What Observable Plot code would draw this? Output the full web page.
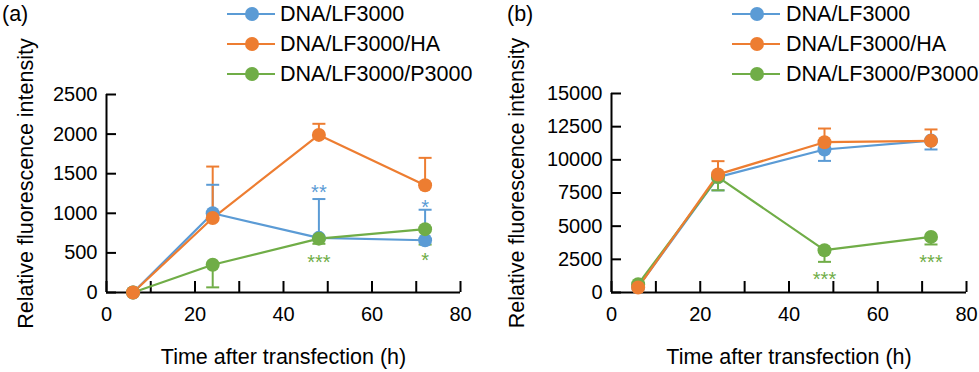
<!DOCTYPE html>
<html><head><meta charset="utf-8">
<script src="https://cdn.jsdelivr.net/npm/d3@7"></script>
<script src="https://cdn.jsdelivr.net/npm/@observablehq/plot@0.6"></script>
<style>
html,body{margin:0;padding:0;background:#fff;}
#root{position:relative;width:979px;height:372px;font-family:"Liberation Sans",Arial,sans-serif;overflow:hidden;background:#fff;color:#000;}
.panel{position:absolute;top:0;}
.row{position:absolute;display:flex;align-items:center;height:24px;font-size:21.5px;white-space:nowrap;}
.tag{position:absolute;font-size:21.5px;line-height:24px;}
</style></head><body><div id="root"></div>
<script>
// ---------- data ----------
const seriesNames = ["DNA/LF3000", "DNA/LF3000/HA", "DNA/LF3000/P3000"];
const seriesColors = ["#5B9BD5", "#ED7D31", "#70AD47"];
const times = [6, 24, 48, 72];
const xTicksMajor = [0, 20, 40, 60, 80];
const xTicksMinor = [0, 10, 20, 30, 40, 50, 60, 70, 80];
const yTicksA = [0, 500, 1000, 1500, 2000, 2500];
const yTicksB = [0, 2500, 5000, 7500, 10000, 12500, 15000];
const xLabel = "Time after transfection (h)";
const yLabel = "Relative fluorescence intensity";

// panel (a)
const aLF3000 = [0, 1000, 690, 660];
const aLF3000Err = [0, 360, 490, 385];     // drawn upward
const aHA = [0, 940, 1990, 1355];
const aHAErr = [0, 650, 140, 345];         // drawn upward
const aP3000 = [0, 350, 680, 800];
const aP3000Err = [0, 285, 65, 195];       // drawn downward
const aErrDir = [1, 1, -1];
const aStarSeries = ["DNA/LF3000", "DNA/LF3000/P3000", "DNA/LF3000", "DNA/LF3000/P3000"];
const aStarTime = [48, 48, 72, 72];
const aStarLevel = [1330, 446, 1136, 471];
const aStarText = ["**", "***", "*", "*"];

// panel (b)
const bLF3000 = [420, 8700, 10780, 11450];
const bLF3000Err = [0, 1000, 860, 670];    // drawn downward
const bHA = [380, 8900, 11330, 11430];
const bHAErr = [0, 1000, 1030, 860];       // drawn upward
const bP3000 = [620, 8700, 3190, 4190];
const bP3000Err = [0, 1000, 880, 570];     // drawn downward
const bErrDir = [-1, 1, -1];
const bStarSeries = ["DNA/LF3000/P3000", "DNA/LF3000/P3000"];
const bStarTime = [48, 72];
const bStarLevel = [1380, 2610];
const bStarText = ["***", "***"];

// ---------- helpers ----------
const FONT = '"Liberation Sans", Arial, sans-serif';
const capSymbol = {
  draw(ctx, size) {
    const w = Math.sqrt(size / Math.PI);
    ctx.moveTo(-w, 0); ctx.lineTo(w, 0);
  }
};

function buildRows(values, errs, dirs) {
  const order = [0, 2, 1]; // draw order: blue, green, orange on top
  const rows = [];
  for (const i of order) {
    times.forEach((t, j) => {
      rows.push({series: seriesNames[i], time: t, value: values[i][j], err: errs[i][j],
                 end: values[i][j] + dirs[i] * errs[i][j]});
    });
  }
  return rows;
}

function makePanel({rows, stars, yMax, yTicks, width, marginLeft, marginRight, marginTop, marginBottom, yLabelDx}) {
  const withErr = rows.filter(d => d.err > 0);
  return Plot.plot({
    width, height: 372, marginLeft, marginRight, marginTop, marginBottom,
    style: {fontFamily: FONT, fontSize: "20px", background: "transparent", color: "#000", overflow: "visible"},
    x: {domain: [0, 80]},
    y: {domain: [0, yMax]},
    color: {domain: seriesNames, range: seriesColors},
    marks: [
      Plot.axisX({ticks: xTicksMinor, tickSize: -11, strokeWidth: 2, tickFormat: () => "", label: null}),
      Plot.axisX({ticks: xTicksMajor, tickSize: 0, tickPadding: 14, fontSize: 20, tickFormat: d => String(d), label: null}),
      Plot.axisY({ticks: yTicks, tickSize: -10, tickPadding: 19, strokeWidth: 2, fontSize: 20, tickFormat: d => String(d), label: null}),
      Plot.text([xLabel], {frameAnchor: "bottom", dy: 65, textAnchor: "middle", lineAnchor: "middle", fontSize: 21.5, fill: "#000"}),
      Plot.text([yLabel], {frameAnchor: "left", dx: yLabelDx, dy: -10, rotate: -90, textAnchor: "middle", lineAnchor: "middle", fontSize: 21.5, fill: "#000"}),
      Plot.ruleX([0], {stroke: "#000", strokeWidth: 2}),
      Plot.ruleY([0], {stroke: "#000", strokeWidth: 2}),
      Plot.ruleX(withErr, {x: "time", y1: "value", y2: "end", stroke: "series", strokeWidth: 2}),
      Plot.dot(withErr, {x: "time", y: "end", r: 6.5, symbol: capSymbol, stroke: "series", strokeWidth: 2}),
      Plot.line(rows, {x: "time", y: "value", z: "series", stroke: "series", strokeWidth: 2.2}),
      Plot.dot(rows, {x: "time", y: "value", r: 7, fill: "series"}),
      Plot.text(stars, {x: "time", y: "level", text: "label", fill: "series", fontSize: 20, dy: 5})
    ]
  });
}

function buildStars(series, time, level, text) {
  return series.map((s, i) => ({series: s, time: time[i], level: level[i], label: text[i]}));
}

function addLegend(root, lineX, textGap) {
  const ys = [14, 44, 74];
  seriesNames.forEach((name, i) => {
    const row = document.createElement("div");
    row.className = "row";
    row.style.left = lineX + "px";
    row.style.top = (ys[i] - 12) + "px";
    row.innerHTML = `<svg width="${48 + textGap}" height="20"><line x1="0" x2="48" y1="10" y2="10" stroke="${seriesColors[i]}" stroke-width="2"/><circle cx="25" cy="10" r="7" fill="${seriesColors[i]}"/></svg><span>${name}</span>`;
    root.appendChild(row);
  });
}

// ---------- render ----------
const root = document.getElementById("root");

const rowsA = buildRows([aLF3000, aHA, aP3000], [aLF3000Err, aHAErr, aP3000Err], aErrDir);
const svgA = makePanel({rows: rowsA, stars: buildStars(aStarSeries, aStarTime, aStarLevel, aStarText),
  yMax: 2500, yTicks: yTicksA, width: 490, marginLeft: 106, marginRight: 30, marginTop: 94, marginBottom: 80, yLabelDx: -80});
svgA.classList.add("panel"); svgA.style.left = "0px";
root.appendChild(svgA);

const rowsB = buildRows([bLF3000, bHA, bP3000], [bLF3000Err, bHAErr, bP3000Err], bErrDir);
const svgB = makePanel({rows: rowsB, stars: buildStars(bStarSeries, bStarTime, bStarLevel, bStarText),
  yMax: 15000, yTicks: yTicksB, width: 489, marginLeft: 121, marginRight: 13, marginTop: 93, marginBottom: 80, yLabelDx: -94});
svgB.classList.add("panel"); svgB.style.left = "490px";
root.appendChild(svgB);

addLegend(root, 227, 5);
addLegend(root, 732, 6);

const tagA = document.createElement("div"); tagA.className = "tag"; tagA.textContent = "(a)";
tagA.style.left = "2px"; tagA.style.top = "2px"; root.appendChild(tagA);
const tagB = document.createElement("div"); tagB.className = "tag"; tagB.textContent = "(b)";
tagB.style.left = "507px"; tagB.style.top = "2px"; root.appendChild(tagB);
</script>
</body></html>
